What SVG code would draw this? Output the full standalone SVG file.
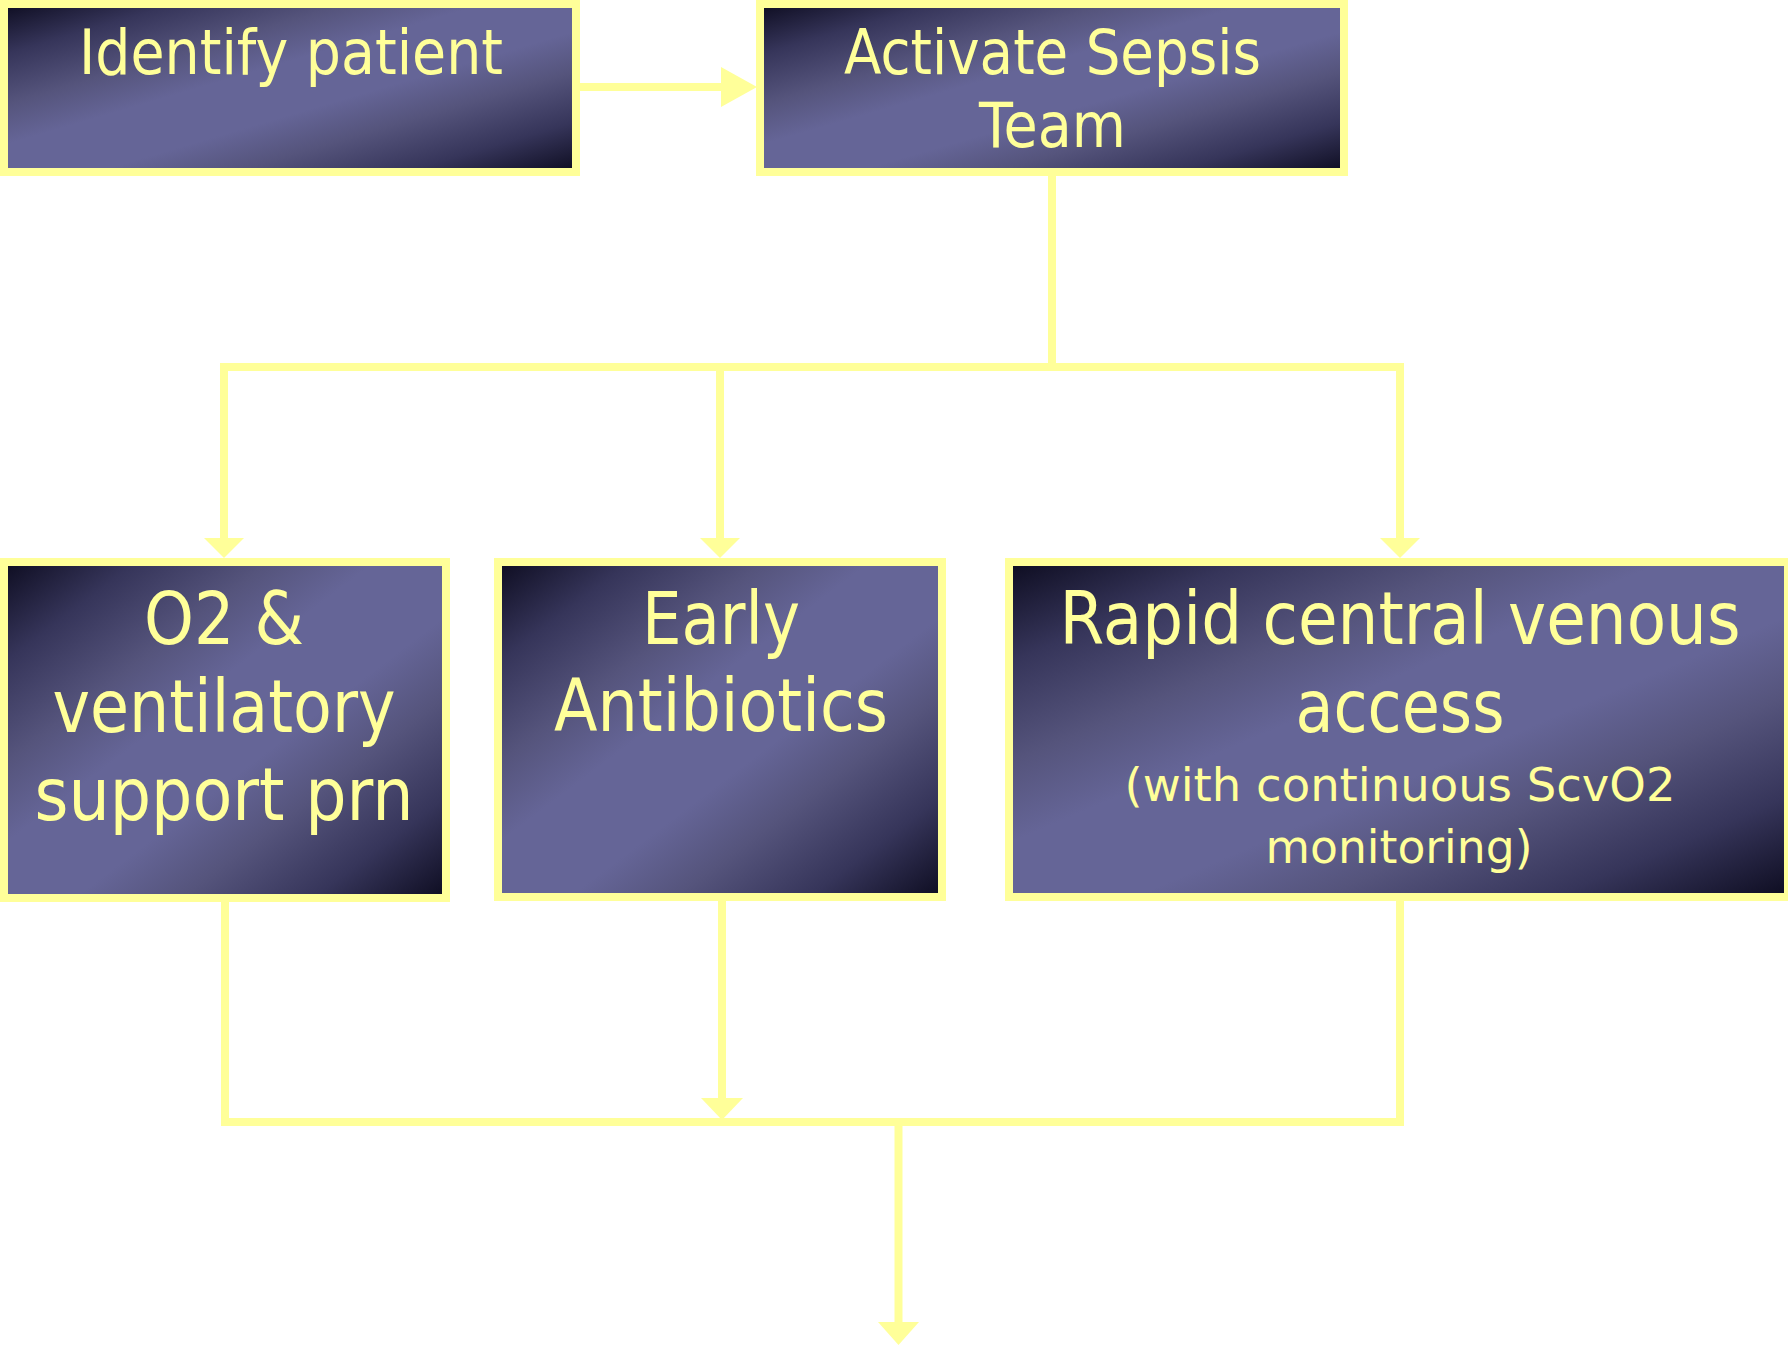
<svg xmlns="http://www.w3.org/2000/svg" width="1788" height="1347" viewBox="0 0 1788 1347">
<style>
.box{stroke:#ffff99;stroke-width:8}
.lbl{fill:#ffff99;font-family:"DejaVu Sans","Liberation Sans",sans-serif;text-anchor:middle}
.big{font-size:73px}
.top{font-size:63px}
.small{font-size:47px}
.wire{fill:none;stroke:#ffff99;stroke-width:8;stroke-linejoin:miter}
.head{fill:#ffff99}
</style>
<defs>
<linearGradient id="g" x1="0" y1="0" x2="1" y2="1">
<stop offset="0" stop-color="#0d0c20"/>
<stop offset="0.15" stop-color="#36355a"/>
<stop offset="0.3" stop-color="#55547c"/>
<stop offset="0.42" stop-color="#656597"/>
<stop offset="0.58" stop-color="#656597"/>
<stop offset="0.7" stop-color="#55547c"/>
<stop offset="0.85" stop-color="#36355a"/>
<stop offset="1" stop-color="#0d0c20"/>
</linearGradient>
</defs>
<rect width="1788" height="1347" fill="#ffffff"/>
<g id="connectors">
<path class="wire" d="M580,87 H722"/>
<polygon class="head" points="721,67 757,87 721,107"/>
<path class="wire" d="M1052,176 V367"/>
<path class="wire" d="M224,538 V367 H1400 V538"/>
<path class="wire" d="M720,367 V538"/>
<polygon class="head" points="204,538 244,538 224,558"/>
<polygon class="head" points="700,538 740,538 720,558"/>
<polygon class="head" points="1380,538 1420,538 1400,558"/>
<path class="wire" d="M225,902 V1122 H1400 V901"/>
<path class="wire" d="M722,901 V1098"/>
<polygon class="head" points="701,1098 743,1098 722,1120"/>
<path class="wire" d="M898.5,1122 V1322"/>
<polygon class="head" points="878,1322 919,1322 898.5,1345"/>
</g>
<g id="identify">
<rect class="box" x="4" y="4" width="572" height="168" fill="url(#g)"/>
<text class="lbl top" x="291" y="74" textLength="424" lengthAdjust="spacingAndGlyphs">Identify patient</text>
</g>
<g id="activate">
<rect class="box" x="760" y="4" width="584" height="168" fill="url(#g)"/>
<text class="lbl top" x="1052.5" y="74" textLength="417" lengthAdjust="spacingAndGlyphs">Activate Sepsis</text>
<text class="lbl top" x="1052.5" y="147" textLength="147" lengthAdjust="spacingAndGlyphs">Team</text>
</g>
<g id="oxygen">
<rect class="box" x="4" y="562" width="442" height="336" fill="url(#g)"/>
<text class="lbl big" x="224" y="644" textLength="160" lengthAdjust="spacingAndGlyphs">O2 &amp;</text>
<text class="lbl big" x="224" y="732" textLength="343" lengthAdjust="spacingAndGlyphs">ventilatory</text>
<text class="lbl big" x="224" y="820" textLength="379" lengthAdjust="spacingAndGlyphs">support prn</text>
</g>
<g id="antibiotics">
<rect class="box" x="498" y="562" width="444" height="335" fill="url(#g)"/>
<text class="lbl big" x="721" y="644" textLength="158" lengthAdjust="spacingAndGlyphs">Early</text>
<text class="lbl big" x="721" y="731" textLength="334" lengthAdjust="spacingAndGlyphs">Antibiotics</text>
</g>
<g id="venous">
<rect class="box" x="1009" y="562" width="779" height="335" fill="url(#g)"/>
<text class="lbl big" x="1400" y="644" textLength="681" lengthAdjust="spacingAndGlyphs">Rapid central venous</text>
<text class="lbl big" x="1400" y="732" textLength="209" lengthAdjust="spacingAndGlyphs">access</text>
<text class="lbl small" x="1400" y="801" textLength="551" lengthAdjust="spacingAndGlyphs">(with continuous ScvO2</text>
<text class="lbl small" x="1399" y="863" textLength="267" lengthAdjust="spacingAndGlyphs">monitoring)</text>
</g>
</svg>
